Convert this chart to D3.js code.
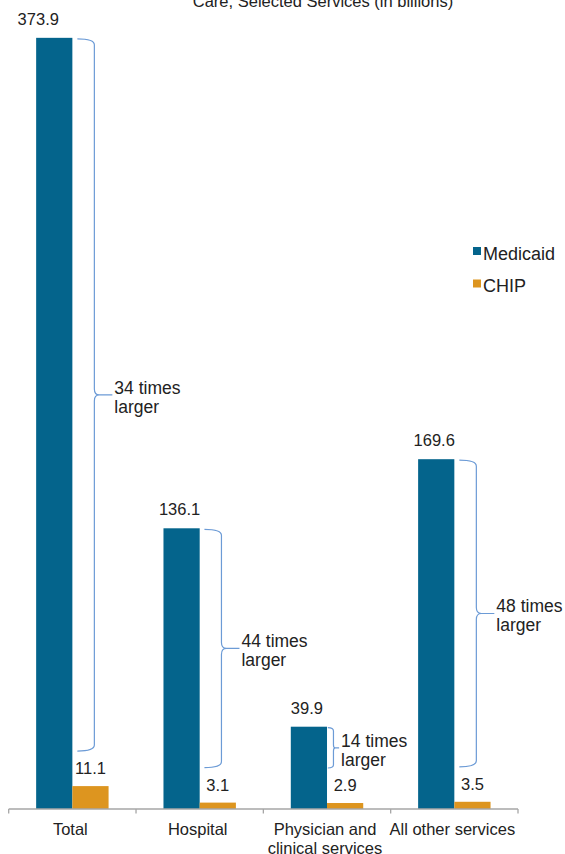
<!DOCTYPE html>
<html>
<head>
<meta charset="utf-8">
<script src="https://cdn.jsdelivr.net/npm/d3@7"></script>
<style>
  html, body { margin: 0; padding: 0; background: #fff; }
  svg { display: block; font-family: "Liberation Sans", Arial, sans-serif; }
</style>
</head>
<body>
<svg id="chart" width="565" height="854"></svg>
<script>
// ---- data ----
const titleText = "Care, Selected Services (in billions)";
const categories = ["Total", "Hospital", "Physician and\nclinical services", "All other services"];
const seriesNames = ["Medicaid", "CHIP"];
const medicaid = [373.9, 136.1, 39.9, 169.6];
const chip = [11.1, 3.1, 2.9, 3.5];
const ratioLabels = ["34 times\nlarger", "44 times\nlarger", "14 times\nlarger", "48 times\nlarger"];
const colors = ["#04648c", "#dd951f"];

// ---- layout ----
const svg = d3.select("#chart");
const baseY = 809;
const x0 = d3.scaleBand().domain(categories).range([8.7, 518]).paddingInner(0).paddingOuter(0);
const x1 = d3.scaleBand().domain(seriesNames).range([0, x0.bandwidth()]).paddingInner(0).paddingOuter(0.758);
const y = d3.scaleLinear().domain([0, 400]).range([baseY, -16]);
const color = d3.scaleOrdinal().domain(seriesNames).range(colors);

const rows = categories.map((c, i) => ({ cat: c, i, values: [medicaid[i], chip[i]] }));

// title (cut off at top)
svg.append("text")
  .attr("x", 323).attr("y", 7)
  .attr("text-anchor", "middle")
  .attr("font-size", 16.5).attr("fill", "#222")
  .text(titleText);

// bars
const g = svg.append("g");
const groups = g.selectAll("g.cat").data(rows).join("g")
  .attr("class", "cat")
  .attr("transform", d => `translate(${x0(d.cat)},0)`);

groups.selectAll("rect").data(d => d.values.map((v, k) => ({ v, s: seriesNames[k], i: d.i })))
  .join("rect")
  .attr("x", d => x1(d.s))
  .attr("y", d => y(d.v))
  .attr("width", x1.bandwidth())
  .attr("height", d => baseY - y(d.v))
  .attr("fill", d => color(d.s));

// value labels
const labelNudge = { 0: -16 };
groups.selectAll("text.val").data(d => d.values.map((v, k) => ({ v, s: seriesNames[k], i: d.i, k })))
  .join("text")
  .attr("class", "val")
  .attr("x", d => x1(d.s) + x1.bandwidth() / 2 + (d.k === 0 ? (labelNudge[d.i] || -2) : 0))
  .attr("y", d => y(d.v) - (d.k === 0 ? 13 : 12))
  .attr("text-anchor", "middle")
  .attr("font-size", 16.5).attr("fill", "#222")
  .text(d => d3.format(".1f")(d.v));

// axis
const axis = svg.append("g").attr("transform", `translate(0,${baseY})`)
  .call(d3.axisBottom(x0).tickSize(0).tickFormat(""));
axis.select(".domain").attr("stroke", "#a6a6a6").attr("stroke-width", 1.3).attr("d", `M${x0.range()[0]},0H${x0.range()[1]}`);
const tickXs = categories.map(c => x0(c)).concat([x0.range()[1]]);
axis.selectAll("line.sep").data(tickXs).join("line")
  .attr("class", "sep")
  .attr("x1", d => d).attr("x2", d => d).attr("y1", 0).attr("y2", 4.5)
  .attr("stroke", "#a6a6a6").attr("stroke-width", 1.3);

// category labels
svg.selectAll("text.cat").data(categories).join("text")
  .attr("class", "cat")
  .attr("x", d => x0(d) + x0.bandwidth() / 2 - 2)
  .attr("y", 835)
  .attr("text-anchor", "middle")
  .attr("font-size", 16.5).attr("fill", "#222")
  .each(function(d) {
    const lines = d.split("\n");
    d3.select(this).selectAll("tspan").data(lines).join("tspan")
      .attr("x", x0(d) + x0.bandwidth() / 2 - 2)
      .attr("dy", (l, j) => j === 0 ? 0 : 19)
      .text(l => l);
  });

// braces
rows.forEach(d => {
  const mRight = x0(d.cat) + x1(seriesNames[0]) + x1.bandwidth();
  const top = y(d.values[0]) + 1;
  const bottom = y(d.values[1]) - 35;
  const h = bottom - top;
  const w = Math.min(17, h * 0.14);
  const tipLen = Math.min(18, h * 0.14);
  const gap = Math.min(5, h * 0.02);
  const xs = mRight + gap;
  const xv = xs + w;
  const xt = xv + tipLen;
  const mid = (top + bottom) / 2;
  const r = Math.min(6, h * 0.08);
  const p = d3.path();
  p.moveTo(xs, top);
  p.quadraticCurveTo(xv, top, xv, top + r);
  p.lineTo(xv, mid - r);
  p.quadraticCurveTo(xv, mid, xv + Math.min(5, tipLen * 0.3), mid);
  p.lineTo(xt, mid);
  p.moveTo(xv + Math.min(5, tipLen * 0.3), mid);
  p.quadraticCurveTo(xv, mid, xv, mid + r);
  p.lineTo(xv, bottom - r);
  p.quadraticCurveTo(xv, bottom, xs, bottom);
  svg.append("path").attr("d", p.toString())
    .attr("fill", "none").attr("stroke", "#6c9bd6").attr("stroke-width", 1.2);
  const lines = ratioLabels[d.i].split("\n");
  const t = svg.append("text").attr("font-size", 17.5).attr("fill", "#222");
  lines.forEach((l, j) => {
    t.append("tspan").attr("x", xt + 2).attr("y", mid - 1 + j * 19).text(l);
  });
});

// legend
const legend = svg.append("g");
seriesNames.forEach((s, k) => {
  const ly = 247 + k * 32.5;
  legend.append("rect").attr("x", 473).attr("y", ly).attr("width", 8).attr("height", 8).attr("fill", color(s));
  legend.append("text").attr("x", 483).attr("y", ly + 12.5)
    .attr("font-size", 18).attr("fill", "#222").text(s);
});
</script>
</body>
</html>
